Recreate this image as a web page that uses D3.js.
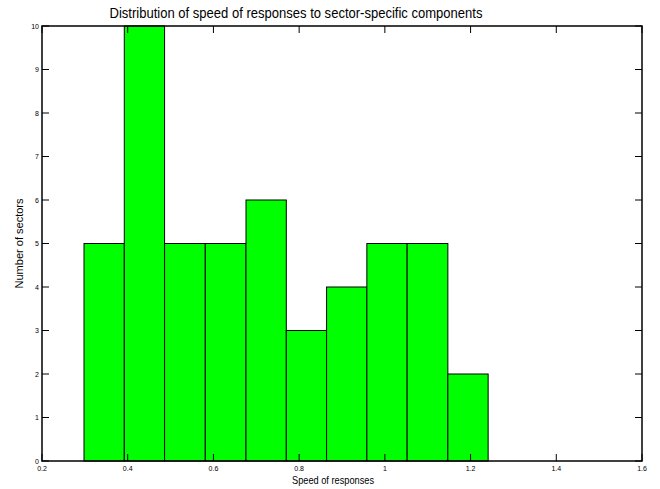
<!DOCTYPE html>
<html>
<head>
<meta charset="utf-8">
<script src="https://cdn.jsdelivr.net/npm/d3@7"></script>
<style>
  body { margin: 0; background: #fff; }
  text { font-family: "Liberation Sans", Arial, sans-serif; fill: #000; }
</style>
</head>
<body>
<div id="chart"></div>
<script>
// histogram bins (edges) and counts
var binEdges = [0.298, 0.392, 0.486, 0.581, 0.676, 0.770, 0.864, 0.958, 1.052, 1.147, 1.241];
var counts = [5, 10, 5, 5, 6, 3, 4, 5, 5, 2];
var xTicks = [0.2, 0.4, 0.6, 0.8, 1, 1.2, 1.4, 1.6];
var yTicks = [0, 1, 2, 3, 4, 5, 6, 7, 8, 9, 10];

var width = 660, height = 489;
var margin = {top: 26, right: 18, bottom: 28, left: 42};

var svg = d3.select("#chart").append("svg")
  .attr("width", width).attr("height", height);

var x = d3.scaleLinear().domain([0.2, 1.6]).range([margin.left, width - margin.right]);
var y = d3.scaleLinear().domain([0, 10]).range([height - margin.bottom, margin.top]);

var bins = counts.map(function(c, i) {
  return {x0: binEdges[i], x1: binEdges[i + 1], n: c};
});

svg.selectAll(".bar")
  .data(bins)
.enter().append("rect")
  .attr("class", "bar")
  .attr("x", function(d) { return x(d.x0); })
  .attr("y", function(d) { return y(d.n); })
  .attr("width", function(d) { return x(d.x1) - x(d.x0); })
  .attr("height", function(d) { return y(0) - y(d.n); })
  .attr("fill", "#00ff00")
  .attr("stroke", "#000")
  .attr("stroke-width", 1);

var tl = 7;
var g = svg.append("g").attr("stroke", "#000").attr("stroke-width", 1);

// ticks pointing inward on all four sides
xTicks.forEach(function(t) {
  g.append("line").attr("x1", x(t)).attr("x2", x(t)).attr("y1", y(0)).attr("y2", y(0) - tl);
  g.append("line").attr("x1", x(t)).attr("x2", x(t)).attr("y1", y(10)).attr("y2", y(10) + tl);
});
yTicks.forEach(function(t) {
  g.append("line").attr("x1", x(0.2)).attr("x2", x(0.2) + tl).attr("y1", y(t)).attr("y2", y(t));
  g.append("line").attr("x1", x(1.6)).attr("x2", x(1.6) - tl).attr("y1", y(t)).attr("y2", y(t));
});

svg.append("rect")
  .attr("x", x(0.2)).attr("y", y(10))
  .attr("width", x(1.6) - x(0.2)).attr("height", y(0) - y(10))
  .attr("fill", "none").attr("stroke", "#000").attr("stroke-width", 1.5);

svg.selectAll(".xt")
  .data(xTicks)
.enter().append("text")
  .attr("x", function(d) { return x(d); })
  .attr("y", y(0) + 10)
  .attr("text-anchor", "middle")
  .attr("font-size", 7)
  .text(function(d) { return d; });

svg.selectAll(".yt")
  .data(yTicks)
.enter().append("text")
  .attr("x", x(0.2) - 3)
  .attr("y", function(d) { return y(d) + 2.5; })
  .attr("text-anchor", "end")
  .attr("font-size", 7)
  .text(function(d) { return d; });

svg.append("text")
  .attr("x", 296).attr("y", 18)
  .attr("text-anchor", "middle")
  .attr("font-size", 14.5)
  .attr("textLength", 373).attr("lengthAdjust", "spacingAndGlyphs")
  .text("Distribution of speed of responses to sector-specific components");

svg.append("text")
  .attr("x", 333).attr("y", 484)
  .attr("text-anchor", "middle")
  .attr("font-size", 10.5)
  .attr("textLength", 82).attr("lengthAdjust", "spacingAndGlyphs")
  .text("Speed of responses");

svg.append("text")
  .attr("transform", "translate(23," + (y(5)) + ") rotate(-90)")
  .attr("text-anchor", "middle")
  .attr("font-size", 10.5)
  .attr("textLength", 90).attr("lengthAdjust", "spacingAndGlyphs")
  .text("Number of sectors");
</script>
</body>
</html>
